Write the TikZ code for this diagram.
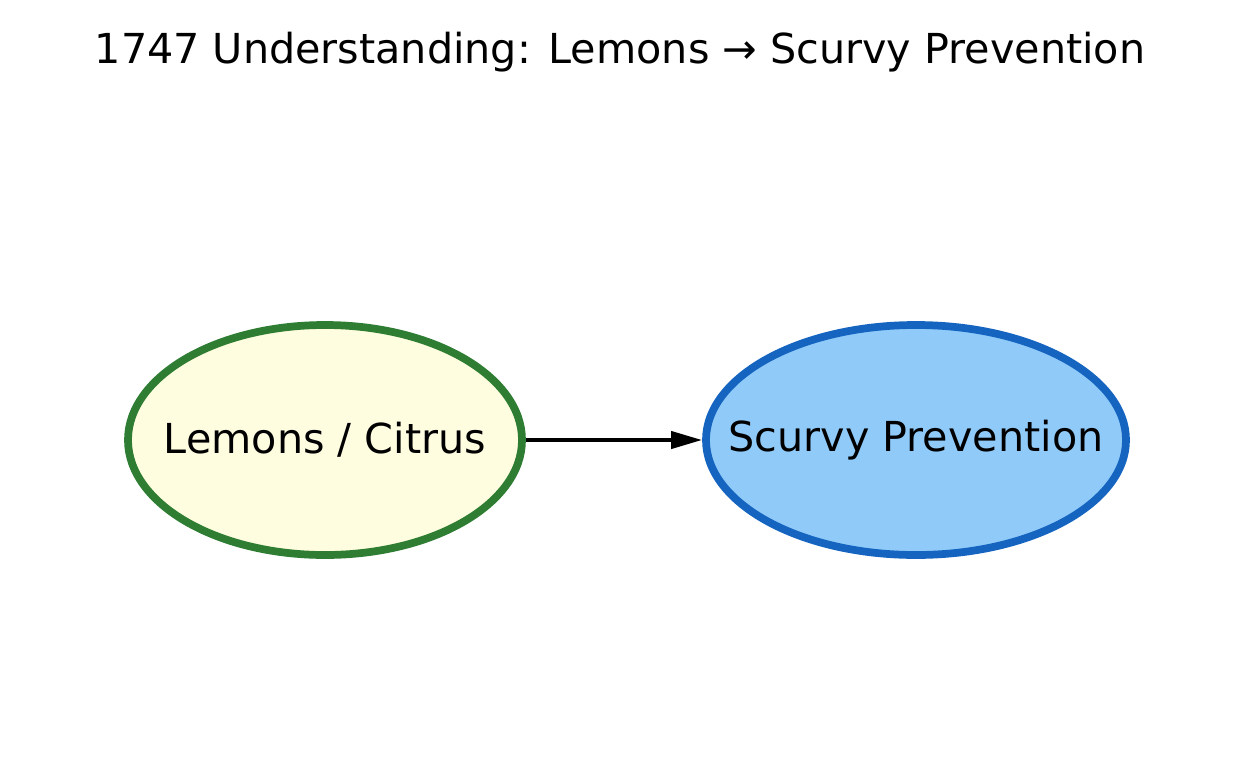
\documentclass[tikz,border=0pt]{standalone}
\usepackage{fontspec}
\setmainfont{DejaVu Sans}
\usetikzlibrary{shapes.geometric,arrows.meta,positioning}

\definecolor{leafgreen}{HTML}{2E7D32}
\definecolor{lemonfill}{HTML}{FFFDE0}
\definecolor{navyblue}{HTML}{1565C0}
\definecolor{skyfill}{HTML}{90CAF9}

\tikzset{
  concept/.style={ellipse, draw, line width=4.4pt, inner xsep=-1.2cm, inner ysep=0pt,
    minimum height=4.6cm, font=\fontsize{23.5}{28}\selectfont},
  link/.style={-{Triangle[length=0.62cm,width=0.34cm]}, line width=2.3pt, black}
}

\begin{document}
\begin{tikzpicture}
\useasboundingbox (0,0) rectangle (24.82,-15.32);

\node[font=\fontsize{23.5}{28}\selectfont] (title) at (12.4,-1.05) {1747 Understanding: Lemons → Scurvy Prevention};

% Cause and effect
\node[concept, draw=leafgreen, fill=lemonfill, minimum width=7.88cm] (lemons) at (6.5,-8.8) {Lemons / Citrus};
\node[concept, draw=navyblue, fill=skyfill, minimum width=8.4cm] (scurvy) at (18.32,-8.8) {Scurvy Prevention};

\draw[link] (lemons) -- (scurvy);

\end{tikzpicture}
\end{document}
